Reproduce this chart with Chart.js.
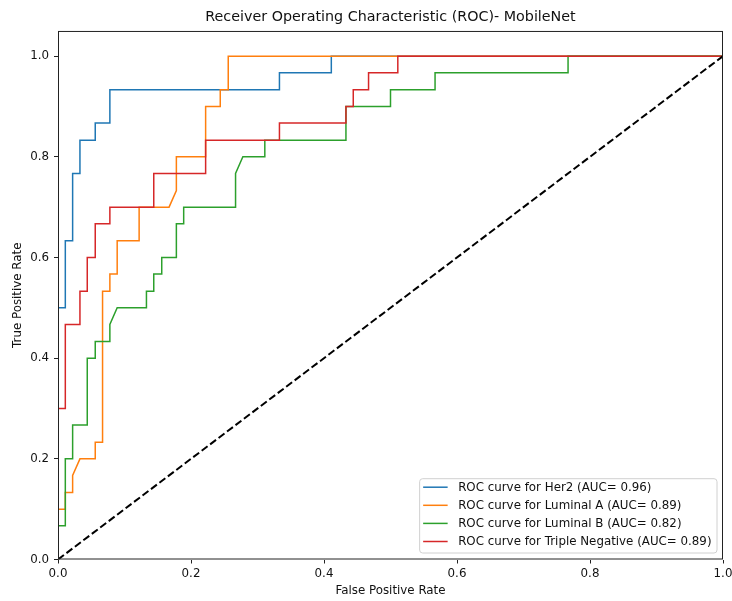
<!DOCTYPE html>
<html>
<head>
<meta charset="utf-8">
<title>ROC - MobileNet</title>
<script src="https://cdn.jsdelivr.net/npm/chart.js@4.4.1/dist/chart.umd.min.js"></script>
<style>
    html, body { margin: 0; padding: 0; background: #fff; }
    #wrap { width: 732px; height: 601px; position: relative; }
</style>
</head>
<body>
<div id="wrap"><canvas id="rocChart"></canvas></div>
<script>
// Class names, AUC scores and curve colours
const classNames = ['Her2', 'Luminal A', 'Luminal B', 'Triple Negative'];
const aucScores = [0.96, 0.89, 0.82, 0.89];
const curveColors = ['#1f77b4', '#ff7f0e', '#2ca02c', '#d62728'];

// ROC points per class (false positive rate / true positive rate)
const her2Fpr = [0, 0, 0.011, 0.011, 0.022, 0.022, 0.033, 0.033, 0.056, 0.056, 0.078, 0.078, 0.333, 0.333, 0.411, 0.411, 1];
const her2Tpr = [0, 0.5, 0.5, 0.633, 0.633, 0.767, 0.767, 0.833, 0.833, 0.867, 0.867, 0.933, 0.933, 0.967, 0.967, 1, 1];

const lumAFpr = [0, 0, 0.011, 0.011, 0.022, 0.022, 0.033, 0.056, 0.056, 0.067, 0.067, 0.078, 0.078, 0.089, 0.089, 0.122, 0.122, 0.167, 0.178, 0.178, 0.222, 0.222, 0.244, 0.244, 0.256, 0.256, 1];
const lumATpr = [0, 0.1, 0.1, 0.133, 0.133, 0.167, 0.2, 0.2, 0.233, 0.233, 0.533, 0.533, 0.567, 0.567, 0.633, 0.633, 0.7, 0.7, 0.733, 0.8, 0.8, 0.9, 0.9, 0.933, 0.933, 1, 1];

const lumBFpr = [0, 0, 0.011, 0.011, 0.022, 0.022, 0.044, 0.044, 0.056, 0.056, 0.078, 0.078, 0.089, 0.133, 0.133, 0.144, 0.144, 0.156, 0.156, 0.178, 0.178, 0.189, 0.189, 0.267, 0.267, 0.278, 0.311, 0.311, 0.433, 0.433, 0.5, 0.5, 0.567, 0.567, 0.767, 0.767, 1];
const lumBTpr = [0, 0.067, 0.067, 0.2, 0.2, 0.267, 0.267, 0.4, 0.4, 0.433, 0.433, 0.467, 0.5, 0.5, 0.533, 0.533, 0.567, 0.567, 0.6, 0.6, 0.667, 0.667, 0.7, 0.7, 0.767, 0.8, 0.8, 0.833, 0.833, 0.9, 0.9, 0.933, 0.933, 0.967, 0.967, 1, 1];

const tripleFpr = [0, 0, 0.011, 0.011, 0.033, 0.033, 0.044, 0.044, 0.056, 0.056, 0.078, 0.078, 0.144, 0.144, 0.222, 0.222, 0.333, 0.333, 0.433, 0.433, 0.444, 0.444, 0.467, 0.467, 0.511, 0.511, 1];
const tripleTpr = [0, 0.3, 0.3, 0.467, 0.467, 0.533, 0.533, 0.6, 0.6, 0.667, 0.667, 0.7, 0.7, 0.767, 0.767, 0.833, 0.833, 0.867, 0.867, 0.9, 0.9, 0.933, 0.933, 0.967, 0.967, 1, 1];

// Chance line
const chanceX = [0, 1];
const chanceY = [0, 1];

// Axis ticks
const xTickValues = [0, 0.2, 0.4, 0.6, 0.8, 1.0];
const yTickValues = [0, 0.2, 0.4, 0.6, 0.8, 1.0];

const FONT = '"DejaVu Sans", Verdana, sans-serif';
const LABEL_SIZE = 11.85;

function toPoints(xs, ys) {
    return xs.map((x, i) => ({ x: x, y: ys[i] }));
}

// Black box around the plot area (all four spines)
const frameBox = {
    id: 'frameBox',
    afterDatasetsDraw(chart) {
        const { ctx, chartArea } = chart;
        ctx.save();
        ctx.strokeStyle = '#222';
        ctx.lineWidth = 1;
        ctx.strokeRect(chartArea.left + 0.5, chartArea.top + 0.5,
            chartArea.right - chartArea.left - 1, chartArea.bottom - chartArea.top - 1);
        ctx.restore();
    }
};

// Legend in the lower right corner, inside the axes
const cornerLegend = {
    id: 'cornerLegend',
    afterDraw(chart) {
        const { ctx, chartArea } = chart;
        ctx.save();
        ctx.font = LABEL_SIZE + 'px ' + FONT;
        const labels = classNames.map((n, i) => `ROC curve for ${n} (AUC= ${aucScores[i].toFixed(2)})`);
        const textW = Math.max(...labels.map(l => ctx.measureText(l).width));
        const rowH = 18.1;
        const w = 39 + textW + 5;
        const h = 9 + 3 * rowH + 11;
        const right = chartArea.right - 6.5;
        const bottom = chartArea.bottom - 7;
        const left = right - w;
        const top = bottom - h;

        ctx.beginPath();
        ctx.roundRect(left + 0.5, top + 0.5, w, h, 3);
        ctx.fillStyle = 'rgba(255,255,255,0.8)';
        ctx.fill();
        ctx.strokeStyle = '#d0d0d0';
        ctx.lineWidth = 1;
        ctx.stroke();

        labels.forEach((label, i) => {
            const cy = top + 9 + i * rowH;
            ctx.beginPath();
            ctx.moveTo(left + 4, cy);
            ctx.lineTo(left + 28.5, cy);
            ctx.strokeStyle = curveColors[i];
            ctx.lineWidth = 1.5;
            ctx.stroke();
            ctx.fillStyle = '#111';
            ctx.textBaseline = 'middle';
            ctx.textAlign = 'left';
            ctx.fillText(label, left + 39, cy + 0.5);
        });
        ctx.restore();
    }
};

function initializeRocChart() {
    const ctx = document.getElementById('rocChart').getContext('2d');

    const curves = [
        [her2Fpr, her2Tpr],
        [lumAFpr, lumATpr],
        [lumBFpr, lumBTpr],
        [tripleFpr, tripleTpr]
    ];

    // later classes sit on top, the chance line over everything
    const datasets = curves.map((c, i) => ({
        label: classNames[i],
        data: toPoints(c[0], c[1]),
        borderColor: curveColors[i],
        borderWidth: 1.5,
        pointRadius: 0,
        tension: 0,
        fill: false,
        order: curves.length - i
    }));
    datasets.push({
        label: 'chance',
        data: toPoints(chanceX, chanceY),
        borderColor: '#000',
        borderWidth: 2,
        borderDash: [7.4, 3.2],
        pointRadius: 0,
        fill: false,
        order: 0
    });

    const tickStyle = { color: '#111', font: { family: FONT, size: LABEL_SIZE } };

    new Chart(ctx, {
        type: 'line',
        data: { datasets: datasets },
        plugins: [frameBox, cornerLegend],
        options: {
            responsive: true,
            maintainAspectRatio: false,
            animation: false,
            layout: { padding: { left: 0, right: 9, top: 0, bottom: 0 } },
            plugins: {
                legend: { display: false },
                tooltip: { enabled: false },
                title: {
                    display: true,
                    fullSize: false,   // centre the title over the plot area
                    text: 'Receiver Operating Characteristic (ROC)- MobileNet',
                    color: '#111',
                    font: { family: FONT, size: 14.3, weight: 'normal', lineHeight: 1.2 },
                    padding: { top: 8.5, bottom: 5.3 }
                }
            },
            scales: {
                x: {
                    type: 'linear',
                    min: 0,
                    max: 1,
                    afterBuildTicks: s => { s.ticks = xTickValues.map(v => ({ value: v })); },
                    afterFit: s => { s.height = 41.5; s.paddingRight = 9; s.paddingLeft = 0; },
                    ticks: Object.assign({ padding: 3, maxRotation: 0, callback: v => v.toFixed(1) }, tickStyle),
                    grid: { drawOnChartArea: false, drawTicks: true, tickLength: 4, color: '#222' },
                    border: { display: false },
                    title: {
                        display: true,
                        text: 'False Positive Rate',
                        color: '#111',
                        font: { family: FONT, size: LABEL_SIZE },
                        padding: { top: 0, bottom: 3.1 }
                    }
                },
                y: {
                    type: 'linear',
                    min: 0,
                    max: 1.05,
                    afterBuildTicks: s => { s.ticks = yTickValues.map(v => ({ value: v })); },
                    afterFit: s => { s.width = 58; },
                    ticks: Object.assign({ padding: 5, callback: v => v.toFixed(1) }, tickStyle),
                    grid: { drawOnChartArea: false, drawTicks: true, tickLength: 4, color: '#222' },
                    border: { display: false },
                    title: {
                        display: true,
                        text: 'True Positive Rate',
                        color: '#111',
                        font: { family: FONT, size: LABEL_SIZE },
                        padding: { top: 10.6, bottom: 0 }
                    }
                }
            }
        }
    });
}

document.addEventListener('DOMContentLoaded', initializeRocChart);
</script>
</body>
</html>
